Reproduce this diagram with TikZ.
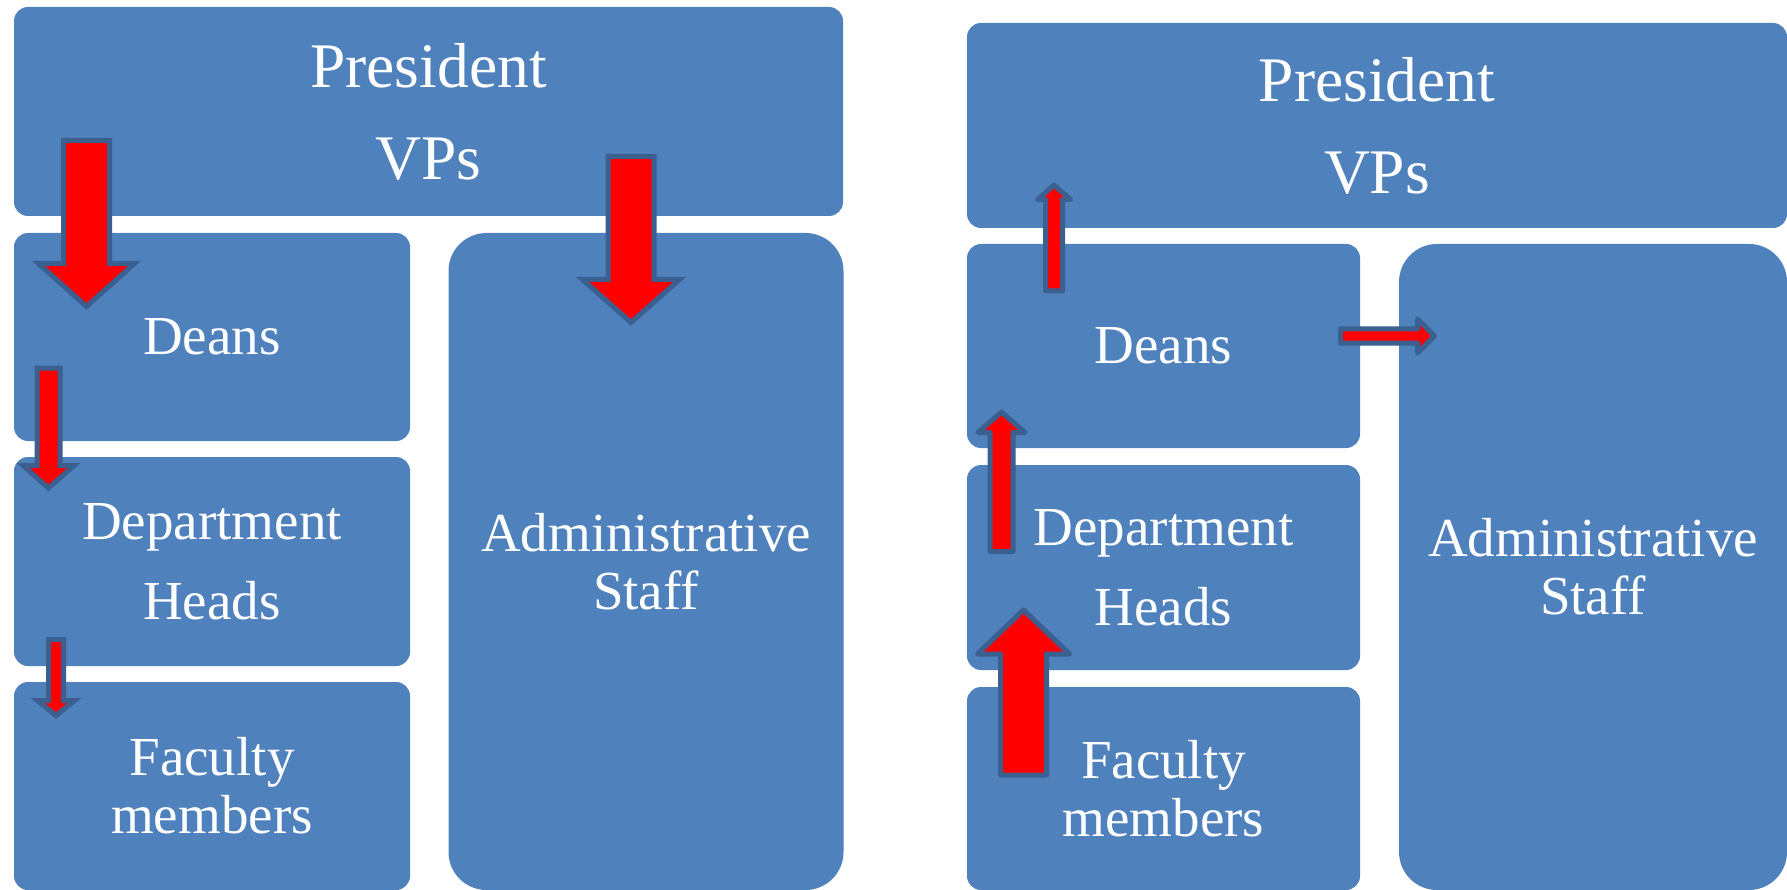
\documentclass[tikz,border=0pt]{standalone}
\usepackage{fontspec}
\setmainfont{Liberation Serif}

\definecolor{boxblue}{HTML}{4F81BD}
\definecolor{arrowedge}{HTML}{3B5F8E}

\tikzset{
	box/.style={fill=boxblue, rounded corners=14pt, inner sep=0pt, align=center,
		text=white, font=\fontsize{55}{58}\selectfont},
	topbox/.style={box, font=\fontsize{63.5}{92}\selectfont},
	staffbox/.style={box, rounded corners=38pt},
	blockarrow/.style={fill=red, draw=arrowedge, line width=5pt},
}

% fat arrow: [extra style]{tail x}{tail y}{angle}{length}{head length}{shaft half}{head half}
\newcommand{\blockarrow}[8][]{%
	\begin{scope}[shift={(#2,#3)}, rotate=#4]
		\filldraw[blockarrow, #1] (0,-#7) -- ({#5-#6},-#7) -- ({#5-#6},-#8)
		-- (#5,0) -- ({#5-#6},#8) -- ({#5-#6},#7) -- (0,#7) -- cycle;
	\end{scope}}

\begin{document}
\begin{tikzpicture}[x=1pt, y=-1pt]
	
	\useasboundingbox (0,0) rectangle (1787,890);
	
	% top-down
	\node[topbox, minimum width=829pt, minimum height=209pt] (lpres) at (428.5,111.5) {President\\VPs};
	\node[box, minimum width=396pt, minimum height=208pt] (ldeans) at (212,337) {Deans};
	\node[box, minimum width=396pt, minimum height=209pt] (lheads) at (212,561.5) {Department\\[22pt]Heads};
	\node[box, minimum width=396pt, minimum height=208pt] (lfaculty) at (212,786) {Faculty\\members};
	\node[staffbox, minimum width=395pt, minimum height=657pt] (lstaff) at (646,561.5) {Administrative\\Staff};
	
	\blockarrow{86.5}{140.5}{-90}{166}{43}{23}{48}
	\blockarrow{631}{156.5}{-90}{166}{43}{23}{48.5}
	\blockarrow{48.5}{368}{-90}{120}{22.5}{11.5}{25.5}
	\blockarrow{56}{639.5}{-90}{76}{15}{7.5}{18.5}
	
	% bottom-up
	\node[topbox, minimum width=820pt, minimum height=205pt] (rpres) at (1377,125.5) {President\\VPs};
	\node[box, minimum width=393pt, minimum height=204pt] (rdeans) at (1163.5,346) {Deans};
	\node[box, minimum width=393pt, minimum height=205pt] (rheads) at (1163.5,567.5) {Department\\[22pt]Heads};
	\node[box, minimum width=393pt, minimum height=203pt] (rfaculty) at (1163.5,788.5) {Faculty\\members};
	\node[staffbox, minimum width=388pt, minimum height=646pt] (rstaff) at (1593,567) {Administrative\\Staff};
	
	\blockarrow[line join=round]{1054}{291}{90}{106}{14.5}{8.5}{16.5}
	\blockarrow[line join=round]{1340.5}{336}{0}{94}{17}{7}{17}
	\blockarrow[line join=round]{1001.5}{551.5}{90}{139.5}{20.5}{11.5}{23.5}
	\blockarrow[line join=round]{1023.5}{775}{90}{165}{44}{23}{46}
	
\end{tikzpicture}
\end{document}
